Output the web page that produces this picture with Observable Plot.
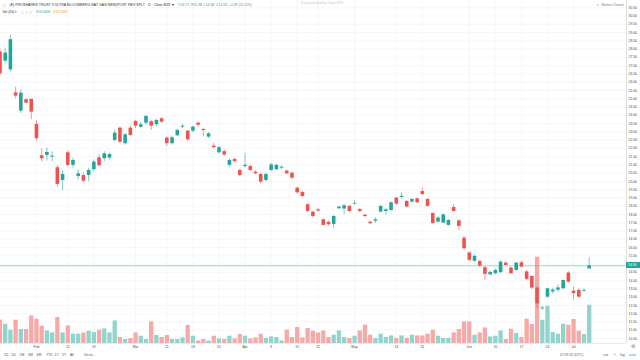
<!DOCTYPE html>
<html>
<head>
<meta charset="utf-8">
<script src="https://cdn.jsdelivr.net/npm/d3@7"></script>
<script src="https://cdn.jsdelivr.net/npm/@observablehq/plot@0.6"></script>
<style>
  html, body { margin: 0; padding: 0; background: #fff; }
  #wrap { position: relative; width: 640px; height: 360px; overflow: hidden; background: #fff;
          font-family: "Liberation Sans", Arial, sans-serif; }
  #wrap svg { position: absolute; left: 0; top: 0; }
  .t { position: absolute; white-space: nowrap; font-size: 3.4px; line-height: 4px; color: #555; }
</style>
</head>
<body>
<div id="wrap"></div>
<script>
// ---- data (BOIL daily, Jan 23 – Jul 5 2019) ----
const dates = [
  "2019-01-23","2019-01-24","2019-01-25","2019-01-28","2019-01-29","2019-01-30","2019-01-31",
  "2019-02-01","2019-02-04","2019-02-05","2019-02-06","2019-02-07","2019-02-08","2019-02-11","2019-02-12","2019-02-13","2019-02-14","2019-02-15","2019-02-19","2019-02-20","2019-02-21","2019-02-22","2019-02-25","2019-02-26","2019-02-27","2019-02-28",
  "2019-03-01","2019-03-04","2019-03-05","2019-03-06","2019-03-07","2019-03-08","2019-03-11","2019-03-12","2019-03-13","2019-03-14","2019-03-15","2019-03-18","2019-03-19","2019-03-20","2019-03-21","2019-03-22","2019-03-25","2019-03-26","2019-03-27","2019-03-28","2019-03-29",
  "2019-04-01","2019-04-02","2019-04-03","2019-04-04","2019-04-05","2019-04-08","2019-04-09","2019-04-10","2019-04-11","2019-04-12","2019-04-15","2019-04-16","2019-04-17","2019-04-18","2019-04-22","2019-04-23","2019-04-24","2019-04-25","2019-04-26","2019-04-29","2019-04-30",
  "2019-05-01","2019-05-02","2019-05-03","2019-05-06","2019-05-07","2019-05-08","2019-05-09","2019-05-10","2019-05-13","2019-05-14","2019-05-15","2019-05-16","2019-05-17","2019-05-20","2019-05-21","2019-05-22","2019-05-23","2019-05-24","2019-05-28","2019-05-29","2019-05-30","2019-05-31",
  "2019-06-03","2019-06-04","2019-06-05","2019-06-06","2019-06-07","2019-06-10","2019-06-11","2019-06-12","2019-06-13","2019-06-14","2019-06-17","2019-06-18","2019-06-19","2019-06-20","2019-06-21","2019-06-24","2019-06-25","2019-06-26","2019-06-27","2019-06-28",
  "2019-07-01","2019-07-02","2019-07-03","2019-07-05"
];
const open = [
  27.82,27.27,26.75,25.36,24.25,24.94,24.96,
  23.45,21.55,21.57,21.47,20.83,20.06,21.73,20.97,20.30,20.36,20.36,20.71,21.43,21.37,21.41,22.48,23.22,22.28,23.22,
  23.63,23.28,23.52,23.61,23.43,23.79,22.62,22.28,22.76,23.28,23.04,23.04,23.52,23.14,22.68,22.13,21.73,21.80,20.97,21.33,20.66,
  20.90,20.90,20.56,20.42,20.06,20.66,20.71,20.80,20.62,20.50,19.59,19.33,18.59,18.14,18.28,17.68,17.52,17.40,18.35,18.33,18.49,
  18.63,18.30,17.96,17.53,17.60,18.15,18.18,18.24,18.99,19.03,18.79,18.75,18.95,19.39,18.91,18.06,17.54,17.48,17.34,18.42,17.62,16.57,
  15.67,15.17,15.16,14.78,14.35,14.42,14.48,15.06,14.76,14.62,15.08,14.53,14.25,13.55,12.30,13.00,13.32,13.42,13.51,14.46,
  13.37,13.41,13.36,14.71
];
const high = [
  28.00,28.02,28.83,25.70,25.54,25.00,25.00,
  23.69,21.98,22.03,21.80,20.96,20.66,21.85,21.40,20.70,20.50,20.80,21.30,21.60,21.80,21.70,23.10,23.30,22.90,23.35,
  23.70,23.55,24.00,23.70,23.75,23.85,22.70,22.75,23.15,23.45,23.10,23.35,23.60,23.20,22.95,22.30,22.10,21.90,21.35,21.40,20.75,
  21.70,21.00,20.65,20.50,20.50,21.10,21.05,20.95,20.70,20.55,19.65,19.40,18.65,18.20,18.35,17.75,17.60,17.95,18.50,18.60,18.55,
  18.85,18.35,18.00,17.60,17.80,18.55,18.35,18.75,19.05,19.30,18.85,18.95,19.00,19.60,18.95,18.10,17.85,18.02,17.70,18.60,17.66,16.65,
  15.75,15.55,15.25,14.85,14.55,14.70,15.20,15.12,14.82,15.10,15.15,14.60,14.30,13.60,12.45,13.55,13.55,13.75,14.05,14.55,
  13.60,13.50,13.50,15.38
];
const low = [
  26.40,27.10,26.60,25.00,24.10,24.70,23.73,
  22.43,21.17,21.23,21.20,19.65,19.45,20.90,20.80,20.10,19.90,20.00,20.60,20.90,21.20,21.30,22.40,22.30,22.20,22.70,
  23.20,23.20,23.40,23.08,23.30,23.50,22.10,22.20,22.70,23.20,22.40,22.95,23.30,22.70,22.60,21.95,21.65,21.50,20.85,21.10,20.30,
  20.80,20.60,20.40,19.85,19.95,20.60,20.65,20.70,20.40,20.10,19.25,19.00,18.10,17.80,18.15,17.30,17.30,17.14,18.30,18.00,18.10,
  18.55,18.10,17.80,17.40,17.45,18.10,17.95,18.20,18.55,18.95,18.40,18.70,18.65,19.15,18.45,17.40,17.50,17.45,17.30,18.15,17.03,15.85,
  15.15,15.10,14.82,14.01,14.30,14.35,14.45,14.88,14.38,14.55,14.78,14.00,13.45,12.30,12.20,12.95,13.20,13.30,13.45,13.85,
  12.85,12.95,13.30,14.68
];
const close = [
  26.51,27.76,28.57,25.16,25.34,24.73,24.19,
  22.58,21.37,21.75,21.53,19.82,20.42,20.97,21.27,20.46,20.02,20.66,21.17,20.95,21.67,21.63,22.92,22.37,22.82,22.78,
  23.34,23.43,23.93,23.34,23.69,23.58,22.28,22.64,23.08,23.34,22.52,23.28,23.40,23.08,22.88,22.04,22.04,21.60,21.27,21.20,20.36,
  20.98,20.66,20.46,19.96,20.42,21.00,20.97,20.86,20.46,20.20,19.31,19.09,18.18,17.88,18.20,17.34,17.38,17.88,18.45,18.53,18.18,
  18.67,18.18,17.88,17.44,17.68,18.49,18.28,18.71,18.63,19.10,18.45,18.91,18.71,19.21,18.49,17.46,17.79,17.98,17.64,18.18,17.28,15.93,
  15.23,15.47,14.88,14.38,14.50,14.62,15.12,14.92,14.42,15.06,14.82,14.08,13.55,12.60,12.35,13.51,13.43,13.56,14.01,13.91,
  13.22,13.00,13.41,14.90
];
const volume = [ // thousands of shares
  559,463,319,559,336,336,662,
  583,415,302,254,624,254,422,223,223,254,295,264,319,350,254,542,144,96,120,
  254,175,96,518,192,144,192,96,96,134,432,175,62,96,62,175,110,96,175,110,216,
  175,110,134,223,120,158,144,62,319,144,384,134,360,295,254,302,144,199,302,144,120,
  175,302,439,199,120,223,144,182,120,182,120,199,182,182,223,319,175,120,120,254,336,518,
  518,199,254,374,158,175,302,96,343,240,144,583,456,2071,559,895,264,223,463,439,
  576,295,216,919
];
// time axis tick labels (bar index of each labelled session)
const xTickIndex  = [7, 13, 18, 26, 32, 37, 42, 47, 52, 57, 61, 68, 76, 81, 90, 95, 100, 105, 110];
const xTickLabels = ["Feb","11","19","Mar","11","18","25","Apr","8","15","22","May","13","20","Jun","10","17","24","Jul"];
// price axis tick labels
const yTicks = [30.5,30,29.5,29,28.5,28,27.5,27,26.5,26,25.5,25,24.5,24,23.5,23,22.5,22,21.5,21,20.5,20,
                19.5,19,18.5,18,17.5,17,16.5,16,15.5,15,14.5,14,13.5,13,12.5,12,11.5,11,10.5];

// ---- build ----
const UP = "#26a69a", DN = "#ef5350", UPV = "#93d3cd", DNV = "#f7a9a7";
const bars = dates.map((d, i) => ({
  i, date: d, open: open[i], high: high[i], low: low[i], close: close[i], volume: volume[i],
  up: close[i] >= open[i]
}));
const labelOf = new Map(xTickIndex.map((v, k) => [v, xTickLabels[k]]));

const W = 640, H = 360;
const common = {
  width: W, height: H, marginLeft: 0, marginRight: 14, marginTop: 0, marginBottom: 17,
  x: {domain: [0.1, 120.15], axis: null},
  style: {background: "transparent", fontFamily: "Liberation Sans, Arial, sans-serif", fontSize: "3.4px", color: "#4a4a4a", overflow: "visible"}
};
const priceDomain = [10.2, 30.94];
const xEnd = 120.15;

// layer 1: grid + axes
const gridPlot = Plot.plot({
  ...common,
  y: {domain: priceDomain, axis: null},
  marks: [
    Plot.ruleY(yTicks, {stroke: "#eff1f5", strokeWidth: 0.6}),
    Plot.ruleX(xTickIndex, {stroke: "#eff1f5", strokeWidth: 0.6}),
    Plot.ruleX([xEnd], {stroke: "#b9bcc4", strokeWidth: 0.5}),
    Plot.ruleY([priceDomain[0]], {stroke: "#d6d8de", strokeWidth: 0.5}),
    Plot.axisY({anchor: "right", ticks: yTicks, tickFormat: d => d.toFixed(2), tickSize: 0, tickPadding: 2,
                fontSize: 3.4, fill: "#4a4a4a", label: null}),
    Plot.axisX({ticks: xTickIndex, tickFormat: i => labelOf.get(i), tickSize: 0, tickPadding: 1.6,
                fontSize: 3.4, fill: "#4a4a4a", label: null})
  ]
});

// layer 2: volume
const volPlot = Plot.plot({
  ...common,
  y: {domain: [0, 2400], range: [343, 243], axis: null},
  marks: [
    Plot.ruleX(bars, {x: "i", y1: 0, y2: "volume", stroke: d => d.up ? UPV : DNV, strokeWidth: 4.3})
  ]
});

// layer 3: candles
const pricePlot = Plot.plot({
  ...common,
  y: {domain: priceDomain, axis: null},
  marks: [
    Plot.ruleY([close[close.length - 1]], {stroke: UP, strokeWidth: 0.6, strokeOpacity: 0.75}),
    Plot.ruleX(bars, {x: "i", y1: "low", y2: "high", stroke: d => d.up ? UP : DN, strokeWidth: 0.6}),
    Plot.ruleX(bars, {x: "i", y1: "open", y2: "close", stroke: d => d.up ? UP : DN, strokeWidth: 3.6})
  ]
});

const wrap = document.getElementById("wrap");
wrap.append(gridPlot, volPlot, pricePlot);

// last price label on the price axis
const last = close[close.length - 1];
const yPx = pricePlot.scale("y").apply(last);
const xPx = pricePlot.scale("x").apply(xEnd);
const tag = document.createElement("div");
tag.className = "t";
Object.assign(tag.style, {left: xPx + "px", top: (yPx - 3.2) + "px", width: (W - xPx) + "px", height: "6.4px",
  lineHeight: "6.4px", background: UP, color: "#fff", paddingLeft: "2px", boxSizing: "border-box"});
tag.textContent = last.toFixed(2);
wrap.append(tag);

// ---- header / toolbar text ----
function txt(s, left, top, style = {}) {
  const el = document.createElement("div");
  el.className = "t";
  el.innerHTML = s;
  Object.assign(el.style, {left: left + "px", top: top + "px"}, style);
  wrap.append(el);
  return el;
}
const prev = close[close.length - 2];
const chg = last - prev;
const pct = chg / prev * 100;
txt("▢", 2.5, 3, {color: "#9598a1"});
txt("(E) PROSHARES TRUST II ULTRA BLOOMBERG NAT GAS NEW(POST REV SPLT · D · Cboe BZX ▾", 9.5, 3, {color: "#333", fontSize: "3.6px"});
txt(`O${open[open.length-1].toFixed(2)}&nbsp; H${high[high.length-1].toFixed(2)}&nbsp; L${low[low.length-1].toFixed(2)}&nbsp; C${last.toFixed(2)}&nbsp; +${chg.toFixed(2)} (${pct.toFixed(2)}%)`, 178, 3, {color: UP});
txt("Vol (20) ▾", 2.5, 10, {color: "#333"});
txt("▢ ▢ ▢", 21, 10, {color: "#b2b5be"});
txt((volume[volume.length-1]).toFixed(3) + "K", 36, 10, {color: UP});
txt("532.096K", 53, 10, {color: "#ff9800"});
txt("Data provided by Cboe BZX", 301, 0.5, {color: "#c4c6cc"});
txt("●", 597, 3, {color: "#f4a261"});
txt("Market Closed", 601.5, 3, {color: "#787b86"});

const tb = ["1D","5D","1M","3M","6M","YTD","1Y","5Y","All"];
const tbX = [4, 11.5, 19.5, 28, 36.5, 46, 54.5, 62, 70];
tb.forEach((s, k) => txt(s, tbX[k], 353, {color: "#50535e"}));
txt("Go to...", 84, 353, {color: "#50535e"});
txt("07:29:25 (UTC)", 560, 353, {color: "#50535e"});
txt("%", 613.5, 353, {color: "#b2b5be"});
txt("ext", 603.5, 353, {color: "#50535e"});
txt("log", 620, 353, {color: "#50535e"});
txt("auto", 629, 353, {color: "#2196f3"});
txt("⚙", 631, 344.5, {color: "#787b86", fontSize: "4.5px"});
</script>
</body>
</html>
